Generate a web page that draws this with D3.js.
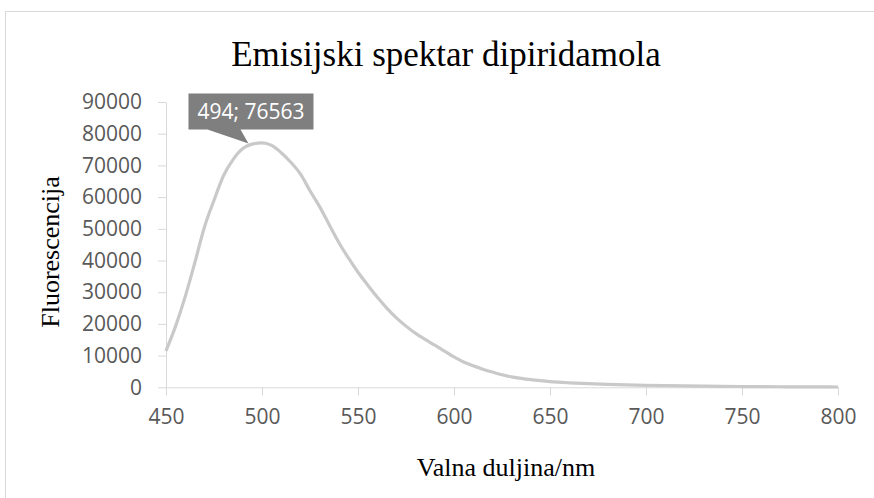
<!doctype html>
<html>
<head>
  <meta charset="utf-8">
  <title>Emisijski spektar dipiridamola</title>
  <style>
    html, body { margin: 0; padding: 0; background: #fff; }
    svg { display: block; }
  </style>
</head>
<body>
  <div id="chart"></div>

  <script src="https://d3js.org/d3.v7.min.js"></script>

  <script>
    // wavelengths (nm) and fluorescence
    var wavelengths = [450, 455, 460, 465, 470, 475, 480, 485, 490, 494, 500, 505, 510, 515, 520, 525,
      530, 535, 540, 545, 550, 555, 560, 565, 570, 575, 580, 585, 590, 595, 600, 605, 610, 615, 620,
      625, 630, 635, 640, 645, 650, 660, 670, 680, 690, 700, 710, 720, 730, 740, 750, 760, 770, 780,
      790, 800];
    var fluorescence = [11500, 19300, 28600, 39300, 50500, 59000, 66800, 71900, 75300, 76563, 77100,
      76300, 74000, 71000, 67300, 62000, 57000, 51300, 45700, 40800, 36300, 32300, 28500, 25000,
      21900, 19300, 17000, 15100, 13300, 11400, 9600, 8000, 6800, 5700, 4800, 3950, 3300, 2800, 2400,
      2080, 1800, 1420, 1150, 940, 770, 620, 510, 420, 350, 290, 240, 200, 170, 140, 120, 100];
    var xTicks = [450, 500, 550, 600, 650, 700, 750, 800];
    var yTicks = [0, 10000, 20000, 30000, 40000, 50000, 60000, 70000, 80000, 90000];
    var peak = [494, 76563];

    var width = 874, height = 498;
    var plotLeft = 166, plotRight = 838, plotTop = 102, plotBottom = 387.3;

    var svg = d3.select('#chart').append('svg')
      .attr('width', width)
      .attr('height', height);

    // chart border
    svg.append('rect')
      .attr('x', 5.5).attr('y', 11.5)
      .attr('width', 900).attr('height', 520)
      .attr('fill', '#fff')
      .attr('stroke', '#d9d9d9');

    var x = d3.scaleLinear().domain([450, 800]).range([plotLeft, plotRight]);
    var y = d3.scaleLinear().domain([0, 90000]).range([plotBottom, plotTop]);

    var xAxis = svg.append('g')
      .attr('transform', 'translate(0,' + plotBottom + ')')
      .call(d3.axisBottom(x).tickValues(xTicks).tickSize(8).tickPadding(14).tickSizeOuter(0));
    var yAxis = svg.append('g')
      .attr('transform', 'translate(' + plotLeft + ',0)')
      .call(d3.axisLeft(y).tickValues(yTicks).tickFormat(d3.format('d'))
        .tickSize(8).tickPadding(16).tickSizeOuter(0));

    [xAxis, yAxis].forEach(function(a) {
      a.selectAll('path, line').attr('stroke', '#d9d9d9');
      a.selectAll('text')
        .attr('fill', '#595959')
        .style('font-family', '"Open Sans", sans-serif')
        .style('font-size', '21px');
    });

    // spectrum line
    var line = d3.line()
      .x(function(d, i) { return x(wavelengths[i]); })
      .y(function(d) { return y(d); })
      .curve(d3.curveMonotoneX);

    svg.append('path')
      .datum(fluorescence)
      .attr('d', line)
      .attr('fill', 'none')
      .attr('stroke', '#c9c9c9')
      .attr('stroke-width', 3.2)
      .attr('stroke-linejoin', 'round');

    // data label callout
    var px = x(peak[0]), py = y(peak[1]);
    var bx = px - 62, by = py - 51, bw = 125, bh = 36;
    svg.append('path')
      .attr('d', 'M' + bx + ',' + by + 'h' + bw + 'v' + bh + 'H' + (bx + 52) +
        'L' + (px - 2) + ',' + (py - 1) + 'L' + (bx + 19) + ',' + (by + bh) + 'H' + bx + 'Z')
      .attr('fill', '#7f7f7f');
    svg.append('text')
      .attr('x', bx + bw / 2)
      .attr('y', by + bh / 2)
      .attr('dy', '0.35em')
      .attr('text-anchor', 'middle')
      .attr('fill', '#fff')
      .style('font-family', '"Open Sans", sans-serif')
      .style('font-size', '21px')
      .text(peak[0] + '; ' + peak[1]);

    // titles
    svg.append('text')
      .attr('x', 446).attr('y', 66)
      .attr('text-anchor', 'middle')
      .style('font-family', '"Liberation Serif", serif')
      .style('font-size', '35px')
      .text('Emisijski spektar dipiridamola');

    svg.append('text')
      .attr('x', (plotLeft + plotRight) / 2 + 4).attr('y', 476)
      .attr('text-anchor', 'middle')
      .style('font-family', '"Liberation Serif", serif')
      .style('font-size', '26px')
      .text('Valna duljina/nm');

    svg.append('text')
      .attr('transform', 'translate(59,252) rotate(-90)')
      .attr('text-anchor', 'middle')
      .style('font-family', '"Liberation Serif", serif')
      .style('font-size', '26px')
      .text('Fluorescencija');
  </script>
</body>
</html>
